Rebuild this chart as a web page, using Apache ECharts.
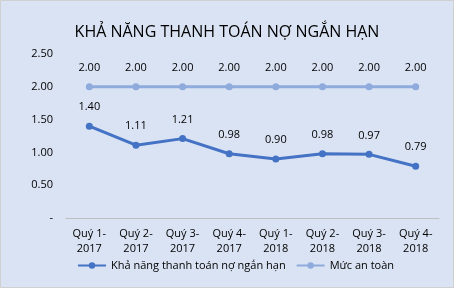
<!DOCTYPE html>
<html><head><meta charset="utf-8">
<script src="https://cdn.jsdelivr.net/npm/echarts@6/dist/echarts.min.js"></script>
<style>html,body{margin:0;padding:0;background:#dae3f3;}#c{width:454px;height:288px;}</style>
</head><body><div id="c"></div>
<script>
const categories = ["Quý 1-\n2017","Quý 2-\n2017","Quý 3-\n2017","Quý 4-\n2017","Quý 1-\n2018","Quý 2-\n2018","Quý 3-\n2018","Quý 4-\n2018"];
const ratioValues = [1.40, 1.11, 1.21, 0.98, 0.90, 0.98, 0.97, 0.79];
const safeValues = [2.00, 2.00, 2.00, 2.00, 2.00, 2.00, 2.00, 2.00];
const seriesNames = ["Khả năng thanh toán nợ ngắn hạn", "Mức an toàn"];
const titleText = "KHẢ NĂNG THANH TOÁN NỢ NGẮN HẠN";

const font = "'Open Sans', 'Noto Sans', sans-serif";
const chart = echarts.init(document.getElementById('c'));
chart.setOption({
  backgroundColor: '#dae3f3',
  animation: false,
  graphic: [{ type: 'rect', shape: { x: 0.5, y: 0.5, width: 453, height: 287 },
    style: { fill: 'none', stroke: '#d0d0d0', lineWidth: 1 }, silent: true }],
  title: { text: titleText, left: 'center', top: 19,
    textStyle: { fontFamily: font, fontSize: 16, fontWeight: 'normal', color: '#000' } },
  grid: { left: 66, right: 15, top: 54, bottom: 70 },
  legend: { bottom: 12, left: 72, itemWidth: 28, itemHeight: 8, itemGap: 10,
    textStyle: { fontFamily: font, fontSize: 11, color: '#000' },
    data: seriesNames },
  xAxis: { type: 'category', data: categories, boundaryGap: true,
    axisLine: { lineStyle: { color: '#bfbfbf' } }, axisTick: { show: false },
    axisLabel: { fontFamily: font, fontSize: 11, color: '#000', lineHeight: 15, margin: 8 } },
  yAxis: { type: 'value', min: 0, max: 2.5, interval: 0.5,
    splitLine: { show: false }, axisLine: { show: false }, axisTick: { show: false },
    axisLabel: { fontFamily: font, fontSize: 11, color: '#000', margin: 13,
      formatter: v => v === 0 ? '-' : v.toFixed(2) } },
  series: [
    { name: seriesNames[0], type: 'line', data: ratioValues, symbol: 'circle', symbolSize: 7,
      lineStyle: { width: 3, color: '#4472c4' }, itemStyle: { color: '#4472c4' },
      label: { show: true, position: 'top', distance: 10, fontFamily: font, fontSize: 11, color: '#000',
        formatter: p => p.value.toFixed(2) } },
    { name: seriesNames[1], type: 'line', data: safeValues, symbol: 'circle', symbolSize: 7,
      lineStyle: { width: 3, color: '#8faadc' }, itemStyle: { color: '#8faadc' },
      label: { show: true, position: 'top', distance: 10, fontFamily: font, fontSize: 11, color: '#000',
        formatter: p => p.value.toFixed(2) } }
  ]
});
</script></body></html>
